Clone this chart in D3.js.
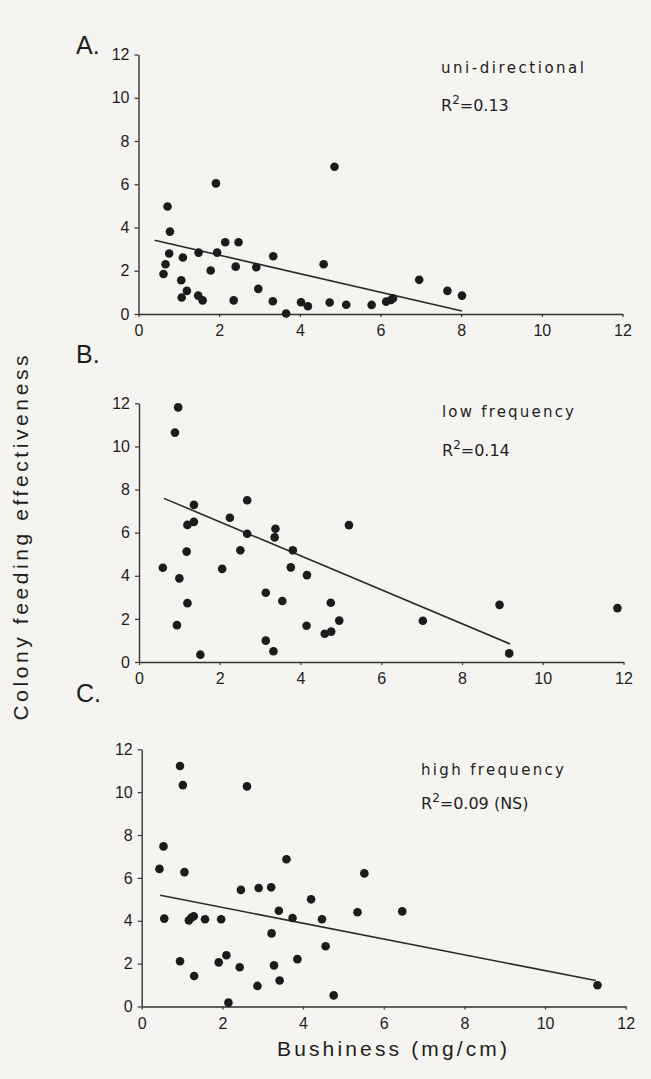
<!DOCTYPE html>
<html>
<head>
<meta charset="utf-8">
<script src="https://cdn.jsdelivr.net/npm/d3@7"></script>
<style>
  body { margin: 0; background: #f6f4f1; }
  svg { display: block; }
</style>
</head>
<body>
<script>
// bushiness (x) and feeding effectiveness (y)
var uniX = [0.62, 0.67, 0.72, 0.78, 0.76, 1.06, 1.10, 1.07, 1.20, 1.49, 1.48, 1.59, 1.79, 1.92, 1.95, 2.15, 2.41, 2.36, 2.48, 2.92, 2.97, 3.34, 3.33, 3.66, 4.03, 4.20, 4.59, 4.74, 4.86, 5.15, 5.78, 6.14, 6.26, 6.31, 6.96, 7.66, 8.02];
var uniY = [1.85, 2.30, 4.97, 3.81, 2.80, 1.56, 2.61, 0.76, 1.07, 2.84, 0.85, 0.63, 2.01, 6.04, 2.84, 3.32, 2.19, 0.63, 3.32, 2.16, 1.16, 2.67, 0.59, 0.02, 0.54, 0.36, 2.30, 0.53, 6.81, 0.43, 0.42, 0.57, 0.65, 0.73, 1.58, 1.07, 0.85];

var lowX = [0.97, 0.89, 0.59, 1.00, 0.94, 1.20, 1.18, 1.20, 1.36, 1.36, 1.52, 2.06, 2.25, 2.51, 2.68, 2.68, 3.14, 3.14, 3.33, 3.38, 3.36, 3.55, 3.76, 3.81, 4.15, 4.16, 4.60, 4.75, 4.76, 4.96, 5.20, 7.03, 8.93, 9.17, 11.85];
var lowY = [11.81, 10.64, 4.37, 3.88, 1.71, 2.73, 5.12, 6.36, 6.50, 7.29, 0.34, 4.32, 6.69, 5.18, 7.50, 5.95, 3.21, 0.99, 0.50, 6.18, 5.78, 2.83, 4.39, 5.18, 1.68, 4.03, 1.31, 2.75, 1.41, 1.92, 6.35, 1.91, 2.65, 0.40, 2.50];

var highX = [0.95, 1.02, 2.61, 0.54, 0.44, 1.06, 0.56, 1.17, 1.23, 1.29, 1.57, 1.97, 0.95, 1.30, 1.91, 2.10, 2.43, 2.46, 2.90, 2.87, 3.21, 3.22, 3.28, 3.40, 3.42, 3.59, 3.74, 3.86, 4.20, 4.47, 4.56, 4.76, 5.35, 5.52, 6.46, 11.30, 2.15];
var highY = [11.22, 10.33, 10.27, 7.47, 6.42, 6.27, 4.10, 4.02, 4.14, 4.21, 4.07, 4.07, 2.11, 1.42, 2.06, 2.39, 1.83, 5.44, 5.53, 0.96, 5.56, 3.41, 1.92, 4.47, 1.21, 6.87, 4.13, 2.21, 5.00, 4.07, 2.81, 0.52, 4.40, 6.21, 4.44, 0.99, 0.18];

// fitted regression lines, [x, y] at each end
var uniFit = [[0.40, 3.41], [8.02, 0.14]];
var lowFit = [[0.62, 7.59], [9.19, 0.84]];
var highFit = [[0.46, 5.19], [11.26, 1.21]];

var panelLetters = ["A.", "B.", "C."];
var conditions = ["uni-directional", "low frequency", "high frequency"];
var rSquared = ["=0.13", "=0.14", "=0.09 (NS)"];
var xTicks = [0, 2, 4, 6, 8, 10, 12];
var yTicks = [0, 2, 4, 6, 8, 10, 12];

var W = 651, H = 1079;
var ink = "#1e1e1e";
var font = "'Liberation Sans', Arial, sans-serif";
var font2 = "'DejaVu Sans', Verdana, sans-serif";

var svg = d3.select("body").append("svg")
    .attr("width", W)
    .attr("height", H);

svg.append("rect").attr("width", W).attr("height", H).attr("fill", "#f6f4f1");

// plot frames in pixels
var frames = [
    { x0: 138.5, x1: 622.5, top: 54.5, bot: 314, letterY: 54, condY: 73, condW: 143, rY: 111, textX: 441 },
    { x0: 139, x1: 623.5, top: 403.3, bot: 662, letterY: 363, condY: 417, condW: 132, rY: 456, textX: 442 },
    { x0: 141.7, x1: 625.7, top: 749.3, bot: 1006.5, letterY: 702, condY: 775, condW: 143, rY: 809, textX: 421 }
];

var series = [
    { xs: uniX, ys: uniY, fit: uniFit },
    { xs: lowX, ys: lowY, fit: lowFit },
    { xs: highX, ys: highY, fit: highFit }
];

frames.forEach(function (f, i) {
    var x = d3.scaleLinear().domain([0, 12]).range([f.x0, f.x1]);
    var y = d3.scaleLinear().domain([0, 12]).range([f.bot, f.top]);
    var g = svg.append("g");

    var xAxis = g.append("g")
        .attr("transform", "translate(0," + f.bot + ")")
        .call(d3.axisBottom(x).tickValues(xTicks).tickSize(3).tickPadding(8).tickSizeOuter(0));
    var yAxis = g.append("g")
        .attr("transform", "translate(" + f.x0 + ",0)")
        .call(d3.axisLeft(y).tickValues(yTicks).tickSize(4).tickPadding(5).tickSizeOuter(0));

    [xAxis, yAxis].forEach(function (a) {
        a.select(".domain").attr("stroke", "#333").attr("stroke-width", 1.4);
        a.selectAll(".tick line").attr("stroke", "#333").attr("stroke-width", 1.2);
        a.selectAll(".tick text")
            .attr("fill", ink)
            .style("font-family", font)
            .style("font-size", "16px");
    });

    var s = series[i];
    var pts = s.xs.map(function (v, k) { return [v, s.ys[k]]; });

    g.append("path")
        .datum(s.fit)
        .attr("fill", "none")
        .attr("stroke", "#2a2a2a")
        .attr("stroke-width", 1.6)
        .attr("d", d3.line().x(function (d) { return x(d[0]); }).y(function (d) { return y(d[1]); }));

    g.selectAll("circle.pt")
        .data(pts)
        .enter()
        .append("circle")
        .attr("class", "pt")
        .attr("cx", function (d) { return x(d[0]); })
        .attr("cy", function (d) { return y(d[1]); })
        .attr("r", 4.3)
        .attr("fill", "#1b1b1b");

    // panel letter
    g.append("text")
        .attr("x", 76)
        .attr("y", f.letterY)
        .attr("fill", ink)
        .style("font-family", font)
        .style("font-size", "25px")
        .text(panelLetters[i]);

    // condition name and R squared
    g.append("text")
        .attr("x", f.textX)
        .attr("y", f.condY)
        .attr("fill", ink)
        .attr("textLength", f.condW)
        .attr("lengthAdjust", "spacing")
        .style("font-family", font2)
        .style("font-size", "15px")
        .text(conditions[i]);

    var r = g.append("text")
        .attr("x", f.textX)
        .attr("y", f.rY)
        .attr("fill", ink)
        .style("font-family", font2)
        .style("font-size", "16px");
    r.append("tspan").text("R");
    r.append("tspan").attr("dy", -7).style("font-size", "12px").text("2");
    r.append("tspan").attr("dy", 7).text(rSquared[i]);
});

// shared axis titles
svg.append("text")
    .attr("transform", "translate(28,538) rotate(-90)")
    .attr("text-anchor", "middle")
    .attr("fill", ink)
    .attr("textLength", 365)
    .attr("lengthAdjust", "spacing")
    .style("font-family", font)
    .style("font-size", "21px")
    .text("Colony feeding effectiveness");

svg.append("text")
    .attr("x", 392)
    .attr("y", 1056)
    .attr("text-anchor", "middle")
    .attr("fill", ink)
    .attr("textLength", 230)
    .attr("lengthAdjust", "spacing")
    .style("font-family", font)
    .style("font-size", "21px")
    .text("Bushiness (mg/cm)");
</script>
</body>
</html>
